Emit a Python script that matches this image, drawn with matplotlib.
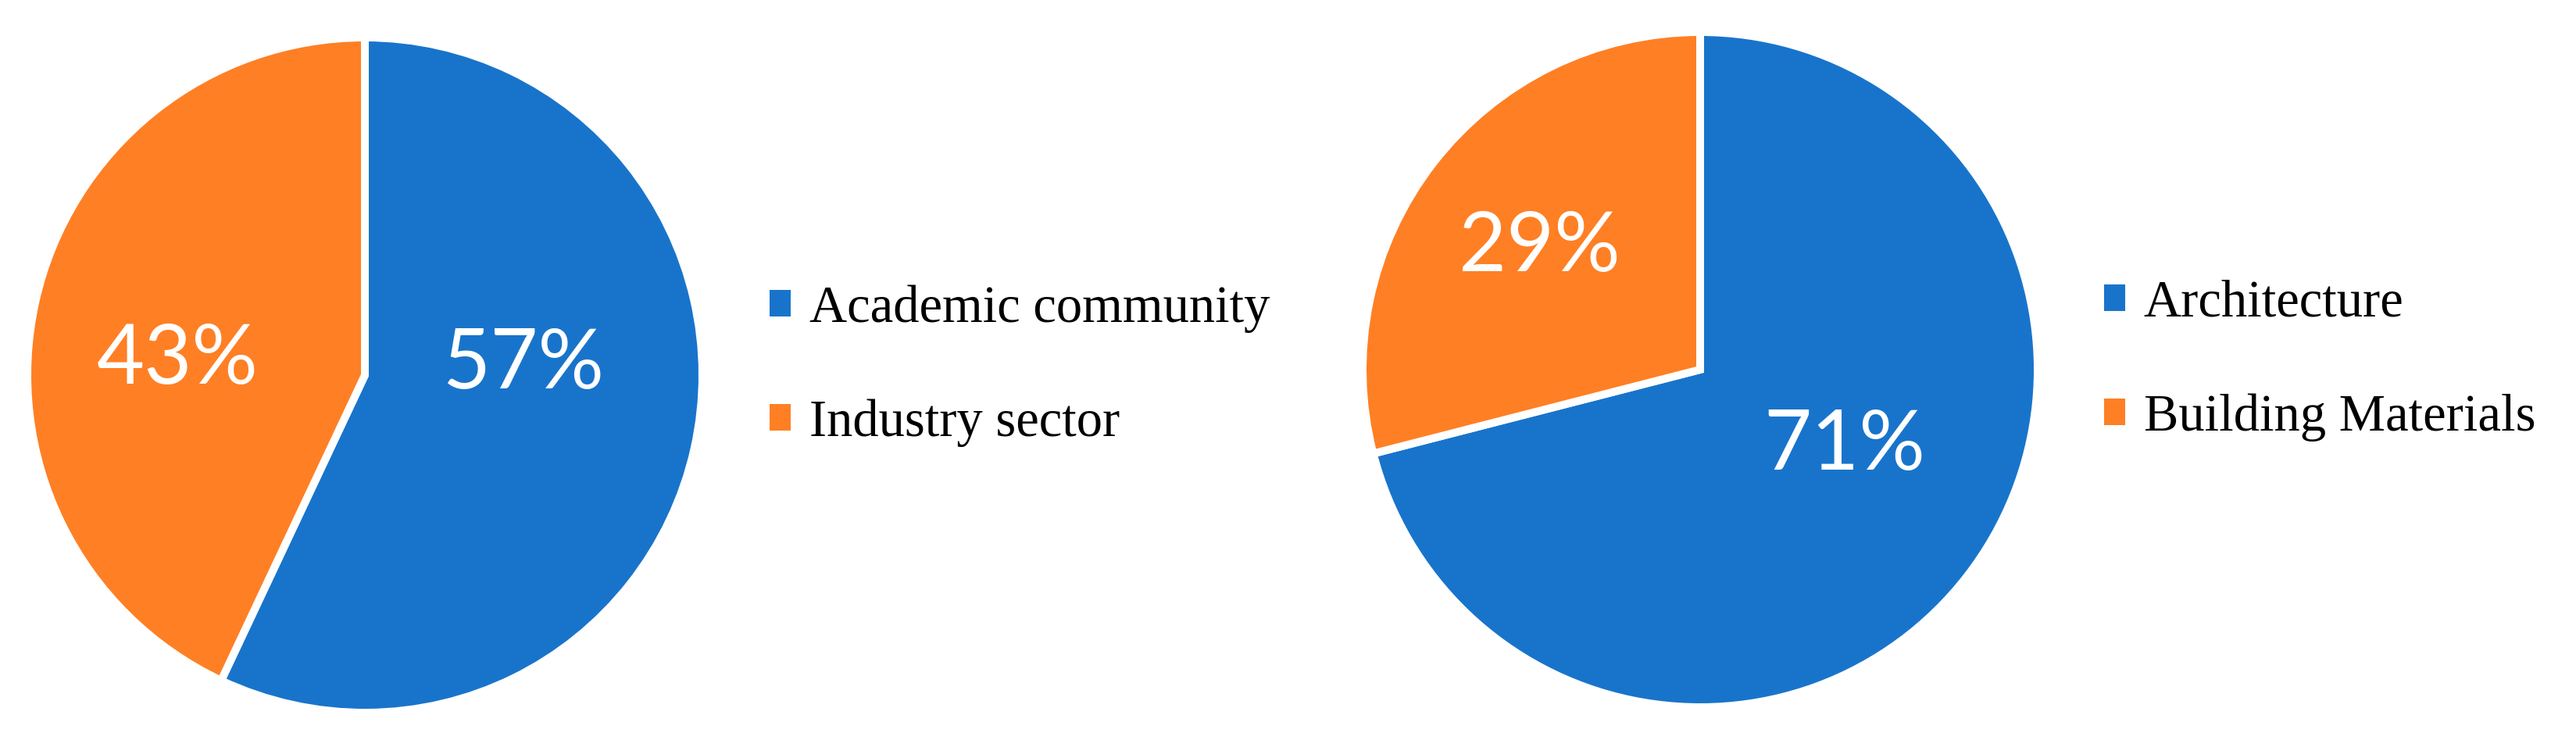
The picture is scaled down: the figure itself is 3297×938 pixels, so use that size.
import matplotlib
matplotlib.use('Agg')
import matplotlib.pyplot as plt
from matplotlib.patches import Patch

# Data
left_labels = ['Academic community', 'Industry sector']
left_values = [57, 43]
right_labels = ['Architecture', 'Building Materials']
right_values = [71, 29]

colours = ['#1874cb', '#ff7f24']

# where Excel put the percentage labels (pie radius = 1)
left_label_pos = [(0.47, 0.03), (-0.555, 0.044)]
right_label_pos = [(0.428, -0.227), (-0.477, 0.362)]

W, H = 3298, 938
fig = plt.figure(figsize=(W / 100, H / 100), dpi=100)

def add_pie(cx, cy, r, values, labels, label_pos, leg_x, leg_y):
    ax = fig.add_axes([(cx - r) / W, (H - cy - r) / H, 2 * r / W, 2 * r / H])
    wedges, texts, autotexts = ax.pie(
        values, colors=colours, startangle=90, counterclock=False,
        autopct='%1.0f%%', pctdistance=0.5, radius=1,
        wedgeprops=dict(edgecolor='white', linewidth=7.2, clip_on=False),
        textprops=dict(color='white', fontsize=76, family='Lato'))
    for t, (x, y) in zip(autotexts, label_pos):
        t.set_position((x, y))
        t.set_clip_on(False)
    ax.set_xlim(-1, 1)
    ax.set_ylim(-1, 1)
    ax.set_aspect('equal')
    ax.axis('off')
    handles = [Patch(facecolor=c, edgecolor='none') for c in colours]
    fig.legend(handles, labels, loc='center left',
               bbox_to_anchor=(leg_x / W, 1 - leg_y / H),
               frameon=False, borderpad=0, borderaxespad=0,
               handlelength=0.41, handleheight=0.41, handletextpad=0.35,
               labelspacing=1.27,
               prop=dict(family='Liberation Serif', size=48))
    return ax

add_pie(467, 480, 432, left_values, left_labels, left_label_pos, 985, 468)
add_pie(2176, 473, 432, right_values, right_labels, right_label_pos, 2693, 461)

plt.savefig('out.png', dpi=100, facecolor='white')
